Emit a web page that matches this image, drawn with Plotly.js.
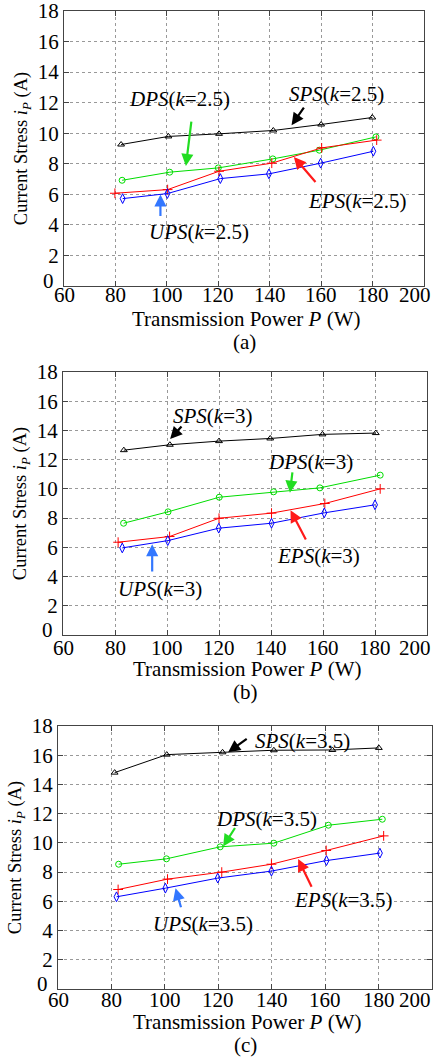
<!DOCTYPE html>
<html>
<head>
<meta charset="utf-8">
<script src="https://cdn.plot.ly/plotly-3.0.1.min.js"></script>
<style>html,body{margin:0;padding:0;background:#fff;}#chart{width:434px;height:1057px;}</style>
</head>
<body>
<div id="chart"></div>
<script>
// ---- Panel (a): k = 2.5 ----
const a_sps_x = [82.2, 100.6, 120.3, 141.4, 160.0, 179.9];
const a_sps_y = [9.26, 9.79, 9.96, 10.18, 10.57, 11.03];
const a_dps_x = [82.6, 101.1, 120.0, 141.2, 159.3, 181.3];
const a_dps_y = [6.92, 7.45, 7.73, 8.32, 8.89, 9.76];
const a_eps_x = [79.8, 100.3, 120.3, 140.8, 160.2, 181.6];
const a_eps_y = [6.07, 6.31, 7.51, 8.04, 9.04, 9.55];
const a_ups_x = [82.8, 100.2, 120.8, 139.7, 159.8, 180.3];
const a_ups_y = [5.72, 6.05, 7.03, 7.34, 8.04, 8.82];

// ---- Panel (b): k = 3 ----
const b_sps_x = [83.4, 101.1, 120.0, 139.7, 159.8, 180.3];
const b_sps_y = [12.65, 13.02, 13.27, 13.45, 13.73, 13.82];
const b_dps_x = [83.3, 100.4, 120.1, 141.0, 158.8, 182.0];
const b_dps_y = [7.65, 8.43, 9.43, 9.80, 10.07, 10.94];
const b_eps_x = [81.2, 101.0, 120.0, 140.2, 160.7, 182.0];
const b_eps_y = [6.35, 6.74, 7.99, 8.34, 9.00, 10.00];
const b_ups_x = [82.8, 100.3, 119.9, 140.2, 160.5, 180.0];
const b_ups_y = [5.96, 6.46, 7.31, 7.65, 8.36, 8.91];

// ---- Panel (c): k = 3.5 ----
const c_sps_x = [81.2, 100.7, 121.6, 140.8, 162.7, 180.1];
const c_sps_y = [14.81, 16.04, 16.20, 16.34, 16.36, 16.50];
const c_dps_x = [82.7, 100.6, 120.7, 140.8, 161.2, 181.4];
const c_dps_y = [8.54, 8.91, 9.73, 9.98, 11.21, 11.62];
const c_eps_x = [82.5, 101.0, 121.3, 139.9, 160.4, 181.9];
const c_eps_y = [6.81, 7.52, 8.00, 8.54, 9.48, 10.48];
const c_ups_x = [81.9, 100.2, 119.8, 139.9, 160.5, 180.5];
const c_ups_y = [6.31, 6.90, 7.59, 8.07, 8.79, 9.30];

// ---- Labels ----
const panelCaptions = ["(a)", "(b)", "(c)"];
const kValues = ["2.5", "3", "3.5"];
const methodNames = ["SPS", "DPS", "EPS", "UPS"];
const xTickVals = [60, 80, 100, 120, 140, 160, 180, 200];
const yTickVals = [0, 2, 4, 6, 8, 10, 12, 14, 16, 18];
const xTitle = "Transmission Power <i>P</i> (W)";
const yTitle = "Current Stress <i>i</i><sub><i>P</i></sub> (A)";

// ---- Styling (not data) ----
const FONT = "'Liberation Serif', 'Times New Roman', serif";
const colors = {SPS: "#000000", DPS: "#00dd00", EPS: "#ff0000", UPS: "#0000ff"};
const arrowColors = {SPS: "#000000", DPS: "#22dd22", EPS: "#ff1a1a", UPS: "#3377ff"};
const symbols = {SPS: "triangle-up-open", DPS: "circle-open", EPS: "cross-thin-open", UPS: "diamond-tall-open"};
const msize = {SPS: 6, DPS: 6, EPS: 7, UPS: 7};

const panels = [
  {sps: [a_sps_x, a_sps_y], dps: [a_dps_x, a_dps_y], eps: [a_eps_x, a_eps_y], ups: [a_ups_x, a_ups_y]},
  {sps: [b_sps_x, b_sps_y], dps: [b_dps_x, b_dps_y], eps: [b_eps_x, b_eps_y], ups: [b_ups_x, b_ups_y]},
  {sps: [c_sps_x, c_sps_y], dps: [c_dps_x, c_dps_y], eps: [c_eps_x, c_eps_y], ups: [c_ups_x, c_ups_y]}
];

// plot-area geometry in pixels
const W = 434, H = 1057;
const boxes = [
  {x0: 64, x1: 424, y0: 11, y1: 286},
  {x0: 63, x1: 427, y0: 372, y1: 635},
  {x0: 58, x1: 432, y0: 726, y1: 989}
];
const xTickY = [295, 648, 1000];
const xTitleY = [319, 669, 1022];
const captionY = [342, 692, 1045];

// label/arrow placements: [textX, textY, tailX, tailY, tipX, tipY]
const place = [
  {SPS: [166, 12.6, 153.7, 11.77, 148.5, 10.53],
   DPS: [105.1, 12.23, 109.6, 10.86, 107.4, 7.86],
   EPS: [174.1, 5.55, 158.3, 6.71, 149.4, 8.45],
   UPS: [112.6, 3.54, 97.5, 4.48, 97.5, 5.99]},
  {SPS: [117.5, 14.98, 106.1, 14.37, 101.2, 13.41],
   DPS: [155.2, 11.83, 148.3, 11.24, 147.3, 9.73],
   EPS: [158.2, 5.39, 153.7, 6.44, 147.5, 8.54],
   UPS: [97.4, 3.17, 94.3, 4.25, 94.3, 6.21]},
  {SPS: [151.5, 17.0, 131.2, 17.2, 123.7, 16.2],
   DPS: [138.1, 11.62, 126.6, 11.12, 121.8, 9.75],
   EPS: [167.0, 6.11, 155.2, 6.9, 149.9, 8.89],
   UPS: [114.1, 4.47, 106.2, 5.49, 104.0, 6.9]}
];

const traces = [];
const layout = {
  width: W, height: H,
  margin: {l: 0, r: 0, t: 0, b: 0},
  paper_bgcolor: "#fff", plot_bgcolor: "#fff",
  showlegend: false,
  font: {family: FONT, color: "#000", size: 20},
  annotations: []
};

panels.forEach((p, i) => {
  const n = i === 0 ? "" : String(i + 1);
  const xa = "x" + n, ya = "y" + n;
  const keys = ["sps", "dps", "eps", "ups"];
  keys.forEach((k, j) => {
    const name = methodNames[j];
    traces.push({
      x: p[k][0], y: p[k][1], xaxis: xa, yaxis: ya,
      mode: "lines+markers", type: "scatter",
      line: {color: colors[name], width: 1},
      marker: {symbol: symbols[name], size: msize[name], color: colors[name], line: {color: colors[name], width: 1}},
      name: name
    });
  });
  const b = boxes[i];
  const axCommon = {
    showline: true, linecolor: "#444", linewidth: 1, mirror: "ticks",
    ticks: "inside", ticklen: 5, tickcolor: "#444",
    showgrid: true, gridcolor: "#999", griddash: "dot", gridwidth: 1,
    zeroline: false, tickfont: {family: FONT, size: 21, color: "#000"},
    fixedrange: true, ticklabeloverflow: "allow"
  };
  // x tick labels are drawn as text at fixed height below each axis;
  // the last one is right-aligned to stay inside the figure (as in the original)
  layout["xaxis" + n] = Object.assign({}, axCommon, {
    domain: [b.x0 / W, b.x1 / W], anchor: ya,
    range: [60, 200], tickvals: xTickVals, showticklabels: false
  });
  xTickVals.forEach((v, t) => {
    const last = t === xTickVals.length - 1;
    layout.annotations.push(last ? {
      xref: "paper", yref: "paper", x: 433 / W, xanchor: "right",
      y: 1 - xTickY[i] / H, yanchor: "middle", text: String(v), showarrow: false,
      font: {family: FONT, size: 21, color: "#000"}
    } : {
      xref: xa, yref: "paper", x: v, xanchor: "center",
      y: 1 - xTickY[i] / H, yanchor: "middle", text: String(v), showarrow: false,
      font: {family: FONT, size: 21, color: "#000"}
    });
  });
  // y tick labels: the "0" label sits up-left of the corner (MATLAB style)
  layout["yaxis" + n] = Object.assign({}, axCommon, {
    domain: [1 - b.y1 / H, 1 - b.y0 / H], anchor: xa,
    range: [0, 18], tickvals: yTickVals,
    ticktext: yTickVals.map((v, t) => t === 0 ? "" : String(v)),
    title: {text: yTitle, font: {family: FONT, size: 18.5, color: "#000"}, standoff: 5}
  });
  layout.annotations.push({
    xref: "paper", yref: "paper", x: (b.x0 - 8) / W, xanchor: "right",
    y: 1 - (b.y1 - 5) / H, yanchor: "middle", text: String(yTickVals[0]), showarrow: false,
    font: {family: FONT, size: 21, color: "#000"}
  });
  // x-axis title
  layout.annotations.push({
    xref: "paper", yref: "paper", x: ((b.x0 + b.x1) / 2 + 2) / W, y: 1 - xTitleY[i] / H,
    yanchor: "middle", text: xTitle, showarrow: false,
    font: {family: FONT, size: 21, color: "#000"}
  });
  methodNames.forEach((name) => {
    const q = place[i][name];
    layout.annotations.push({
      xref: xa, yref: ya, x: q[0], y: q[1], showarrow: false,
      text: "<i>" + name + "</i>(<i>k</i>=" + kValues[i] + ")",
      font: {family: FONT, size: 21, color: "#000"}
    });
    layout.annotations.push({
      xref: xa, yref: ya, axref: xa, ayref: ya,
      x: q[4], y: q[5], ax: q[2], ay: q[3], text: "",
      showarrow: true, arrowhead: 2, arrowsize: 1.1, arrowwidth: 2.2,
      arrowcolor: arrowColors[name], standoff: 0
    });
  });
  layout.annotations.push({
    xref: "paper", yref: "paper", x: ((b.x0 + b.x1) / 2) / W, y: 1 - captionY[i] / H,
    yanchor: "middle", text: panelCaptions[i], showarrow: false,
    font: {family: FONT, size: 21, color: "#000"}
  });
});

Plotly.newPlot("chart", traces, layout, {displayModeBar: false, staticPlot: true});
</script>
</body>
</html>
